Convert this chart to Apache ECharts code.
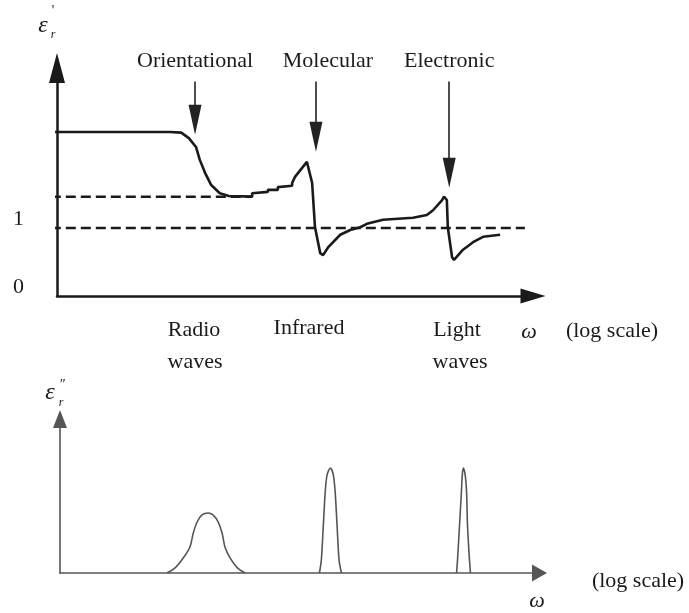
<!DOCTYPE html>
<html>
<head>
<meta charset="utf-8">
<script src="https://cdn.jsdelivr.net/npm/echarts@6/dist/echarts.min.js"></script>
<style>
html,body{margin:0;padding:0;background:#fff;}
#c{width:689px;height:613px;}
</style>
</head>
<body>
<div id="c"></div>
<script>
// ---- data (x in log-frequency units 0..10) ----
const yTickLabels = ['0', '1'];
const staticLine = [[-0.13, 1.46], [4.10, 1.46]];   // upper dashed level
const vacuumLine = [[-0.13, 1.0], [9.83, 1.0]];     // epsilon = 1
const realPart = [
  [-0.23, 2.41], [2.37, 2.41], [2.61, 2.40], [2.77, 2.32], [2.92, 2.19], [3.00, 2.00],
  [3.11, 1.81], [3.24, 1.63], [3.42, 1.51], [3.61, 1.47], [4.10, 1.46], [4.10, 1.51],
  [4.43, 1.53], [4.43, 1.56], [4.64, 1.56], [4.64, 1.60], [4.94, 1.62], [4.94, 1.66],
  [5.00, 1.75], [5.25, 1.97], [5.36, 1.66], [5.42, 1.01], [5.53, 0.63], [5.59, 0.60],
  [5.69, 0.71], [5.95, 0.90], [6.16, 0.97], [6.37, 1.01], [6.51, 1.06], [6.85, 1.12],
  [7.48, 1.15], [7.77, 1.19], [7.90, 1.26], [8.09, 1.41], [8.13, 1.46], [8.19, 1.41],
  [8.21, 1.01], [8.30, 0.57], [8.34, 0.53], [8.53, 0.68], [8.74, 0.79], [8.95, 0.87],
  [9.31, 0.90]
];
const mechanisms = ['Orientational', 'Molecular', 'Electronic'];
const arrowX = [2.90, 5.44, 8.24];
const arrowTop = [3.15, 3.15, 3.15];
const arrowTip = [2.59, 2.34, 1.81];
const labelShift = [0, 24, 0];

const orientLoss = [
  [2.23, 0], [2.40, 0.033], [2.57, 0.097], [2.71, 0.169], [2.78, 0.26], [2.86, 0.331],
  [2.96, 0.377], [3.09, 0.39], [3.19, 0.377], [3.30, 0.331], [3.38, 0.26], [3.44, 0.169],
  [3.55, 0.097], [3.70, 0.033], [3.86, 0]
];
const molecularLoss = [
  [5.41, 0], [5.45, 0.084], [5.49, 0.299], [5.53, 0.519], [5.57, 0.637], [5.64, 0.682],
  [5.70, 0.637], [5.74, 0.519], [5.78, 0.299], [5.82, 0.084], [5.87, 0]
];
const electronicLoss = [
  [8.27, 0], [8.29, 0.084], [8.33, 0.299], [8.37, 0.519], [8.39, 0.637], [8.41, 0.682],
  [8.45, 0.637], [8.48, 0.519], [8.50, 0.299], [8.54, 0.084], [8.56, 0]
];

const SERIF = '"Liberation Serif", "Times New Roman", serif';
const INK = '#1a1a1a';

const chart = echarts.init(document.getElementById('c'), null, {renderer: 'canvas'});

function txt(text, x, y, size, font) {
  return {
    type: 'text', x: x, y: y,
    style: {text: text, font: font || (size + 'px ' + SERIF),
      fill: INK, textAlign: 'center', textVerticalAlign: 'middle'}
  };
}

const markData = mechanisms.map((m, i) => [
  {coord: [arrowX[i], arrowTop[i]], name: m, symbol: 'none',
   label: {padding: [0, 0, 0, labelShift[i]]}},
  {coord: [arrowX[i], arrowTip[i]], symbol: 'triangle', symbolSize: [13, 30]}
]);

const option = {
  animation: false,
  backgroundColor: '#fff',
  grid: [
    {left: 57, right: 156, top: 68, bottom: 317},
    {left: 60, right: 149.5, top: 419, bottom: 40}
  ],
  xAxis: [
    {type: 'value', gridIndex: 0, min: 0, max: 10,
     axisLine: {show: true, onZero: false, symbol: ['none', 'triangle'], symbolSize: [15, 25],
       lineStyle: {color: INK, width: 2.5}},
     axisTick: {show: false}, axisLabel: {show: false}, splitLine: {show: false}},
    {type: 'value', gridIndex: 1, min: 0, max: 10,
     axisLine: {show: true, onZero: false, symbol: ['none', 'triangle'], symbolSize: [17, 15],
       lineStyle: {color: '#555', width: 1.6}},
     axisTick: {show: false}, axisLabel: {show: false}, splitLine: {show: false}}
  ],
  yAxis: [
    {type: 'value', gridIndex: 0, min: 0, max: 3.35, interval: 1,
     axisLine: {show: true, onZero: false, symbol: ['none', 'triangle'], symbolSize: [16, 30],
       lineStyle: {color: INK, width: 2.5}},
     axisTick: {show: false}, splitLine: {show: false},
     axisLabel: {show: true, margin: 33, fontFamily: SERIF, fontSize: 22, color: INK,
       verticalAlign: 'bottom', lineHeight: 18,
       formatter: v => (v < yTickLabels.length ? yTickLabels[v] : '')}},
    {type: 'value', gridIndex: 1, min: 0, max: 1,
     axisLine: {show: true, onZero: false, symbol: ['none', 'triangle'], symbolSize: [14, 18],
       lineStyle: {color: '#555', width: 1.6}},
     axisTick: {show: false}, axisLabel: {show: false}, splitLine: {show: false}}
  ],
  series: [
    {type: 'line', xAxisIndex: 0, yAxisIndex: 0, data: staticLine, showSymbol: false, clip: false,
     silent: true, lineStyle: {color: INK, width: 2.5, type: [10, 5]}},
    {type: 'line', xAxisIndex: 0, yAxisIndex: 0, data: vacuumLine, showSymbol: false, clip: false,
     silent: true, lineStyle: {color: INK, width: 2.5, type: [10, 5]}},
    {type: 'line', xAxisIndex: 0, yAxisIndex: 0, data: realPart, showSymbol: false, clip: false,
     silent: true, lineStyle: {color: INK, width: 2.6},
     markLine: {
       silent: true, animation: false,
       symbol: ['none', 'triangle'], symbolSize: 20,
       lineStyle: {color: '#222', width: 1.6, type: 'solid'},
       itemStyle: {color: '#333'},
       label: {show: true, position: 'start', distance: 9, formatter: '{b}',
         fontFamily: SERIF, fontSize: 22, color: INK},
       emphasis: {disabled: true},
       data: markData
     }},
    {type: 'line', xAxisIndex: 1, yAxisIndex: 1, data: orientLoss, showSymbol: false, smooth: 0.3,
     silent: true, lineStyle: {color: '#555', width: 1.6}},
    {type: 'line', xAxisIndex: 1, yAxisIndex: 1, data: molecularLoss, showSymbol: false, smooth: 0.3,
     silent: true, lineStyle: {color: '#555', width: 1.6}},
    {type: 'line', xAxisIndex: 1, yAxisIndex: 1, data: electronicLoss, showSymbol: false, smooth: 0.3,
     silent: true, lineStyle: {color: '#555', width: 1.6}}
  ],
  graphic: [
    // epsilon' r
    txt('ε', 43, 26, 24, 'italic 24px ' + SERIF),
    txt("'", 53, 11, 14, '14px ' + SERIF),
    txt('r', 53, 35, 12, 'italic 12px ' + SERIF),
    // epsilon'' r
    txt('ε', 50, 393, 24, 'italic 24px ' + SERIF),
    txt('″', 62, 385, 14, 'italic 14px ' + SERIF),
    txt('r', 61, 403, 12, 'italic 12px ' + SERIF),
    // band names
    txt('Radio', 194, 330, 22), txt('waves', 195, 362, 22),
    txt('Infrared', 309, 328, 22),
    txt('Light', 457, 330, 22), txt('waves', 460, 362, 22),
    txt('ω', 529, 332, 22, 'italic 22px ' + SERIF),
    txt('(log scale)', 612, 331, 22),
    txt('ω', 537, 601, 22, 'italic 22px ' + SERIF),
    txt('(log scale)', 638, 581, 22)
  ]
};
chart.setOption(option);
</script>
</body>
</html>
